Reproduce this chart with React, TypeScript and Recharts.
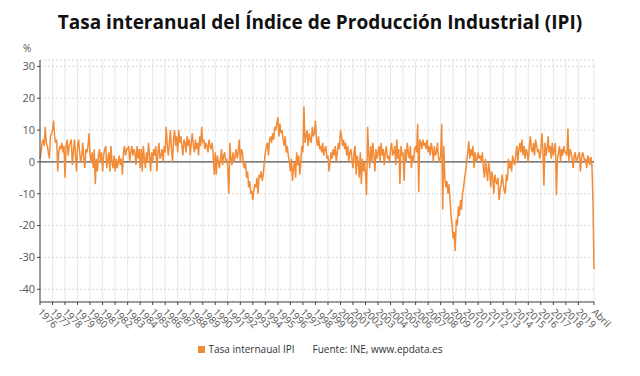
import { CartesianGrid, Line, LineChart, ReferenceLine, XAxis, YAxis } from "recharts";

// Tasa interanual IPI, monthly values (Jan 1976 - Apr 2020)
const ipi1976 = [1, 3, 6, 7, 5, 11, 6, 5, 3, 1, 8, 9];
const ipi1977 = [10, 13, 8, 6, 7, -3, 3, 5, 4, 6, 3, 5];
const ipi1978 = [-5, 5, 7, 2, 5, 6, 7, -1, 3, 7, 2, -3];
const ipi1979 = [5, 7, 3, 0, 2, 6, 1, -2, 4, 3, 5, 9];
const ipi1980 = [2, 0, 3, -2, 4, -7, 1, -3, 2, 4, 0, 3];
const ipi1981 = [-3, 2, 4, 5, -2, 1, 3, -3, 5, 0, -2, 2];
const ipi1982 = [-3, 1, -2, 0, 2, -1, 1, -4, 3, 5, 2, 4];
const ipi1983 = [4, 5, 0, 3, 5, 2, 4, 3, -1, 5, 1, 4];
const ipi1984 = [-2, 4, -3, 5, 1, -2, 3, 0, 6, 2, -3, 3];
const ipi1985 = [0, 4, 2, 5, -3, 3, 6, 1, 2, 4, 0, 5];
const ipi1986 = [3, 11, 5, 2, 6, 10, 4, 0, 7, 10, 5, 8];
const ipi1987 = [3, 10, 6, 8, 5, 2, 7, 6, 3, 8, 5, 7];
const ipi1988 = [2, 6, 9, 5, 3, 7, 4, 6, 2, 8, 5, 11];
const ipi1989 = [6, 7, 4, 6, 5, 3, 7, 5, 4, 6, 2, -4];
const ipi1990 = [3, -4, 2, 0, -2, 1, 4, -1, 2, 3, 0, 1];
const ipi1991 = [-2, -10, 6, 1, -1, 3, 0, 2, 4, 1, 3, 7];
const ipi1992 = [0, 4, 3, -1, -2, 0, -5, -3, -8, -6, -10, -9];
const ipi1993 = [-12, -9, -7, -8, -5, -10, -4, -5, -3, -6, -4, 0];
const ipi1994 = [3, 5, 6, 2, 7, 8, 6, 9, 7, 11, 10, 12];
const ipi1995 = [14, 8, 12, 9, 10, 7, 5, 8, 3, 5, 2, 0];
const ipi1996 = [-3, 1, -6, -2, 0, -5, 3, -1, 2, -4, 0, 5];
const ipi1997 = [3, 17.5, 6, 8, 10, 5, 9, 7, 6, 11, 8, 9];
const ipi1998 = [13, 7, 5, 8, 4, 5, 3, 6, 2, 4, 5, 1];
const ipi1999 = [2, -3, 0, 3, 1, 4, 2, 5, 0, 3, 6, 4];
const ipi2000 = [10, 8, 5, 7, 4, 6, 2, 5, 0, 3, 4, 1];
const ipi2001 = [-2, 3, 5, -4, 2, 0, -5, 3, -7, 1, -3, 0];
const ipi2002 = [-4, -10.5, 11, 3, -2, 5, 0, 6, 2, -3, 4, 1];
const ipi2003 = [3, 5, 0, 6, 2, 4, -1, 3, 5, 1, 2, 0];
const ipi2004 = [4, 6, 2, 3, 5, -1, 7, 1, 4, -7, 5, 2];
const ipi2005 = [3, -6, 4, 0, 6, 3, 1, 5, -2, 2, 0, 4];
const ipi2006 = [5, 3, 12, -9.5, 7, 6, 4, 7, 5, 6, 4, 7];
const ipi2007 = [3, 5, 2, 6, 4, 0, 5, 2, 3, 6, 1, 0];
const ipi2008 = [2, 12, -15, 5, -5, -8, -6, -10, -7, -12, -17, -20];
const ipi2009 = [-24, -22, -28, -18, -20, -14, -17, -12, -15, -10, -8, -5];
const ipi2010 = [-3, 0, 3, 6.5, 1, 4, 2, 5, -2, 3, 0, 1];
const ipi2011 = [3, 1, 2, 0, 3, -2, -5, 1, -3, -6, 0, -3];
const ipi2012 = [-8, -3, -5, -10, -4, -6, -7, -5, -12, -9, -7, -4];
const ipi2013 = [-7, -9, -10, -4, -6, 1, -2, 0, -3, 2, 0, -1];
const ipi2014 = [2, 5, 0, 4, 6, 3, 7, 2, 5, 1, 4, 3];
const ipi2015 = [0, 5, 8, 4, 3, 6, 2, 7, 5, 3, 4, 1];
const ipi2016 = [3, 9, 4, -7.5, 6, 2, 4, 8, 3, 5, 1, 6];
const ipi2017 = [2, 4, 6, -10.5, 1, 3, 5, 0, 4, 2, 5, 3];
const ipi2018 = [3, 2, 10.5, 0, 4, 3, 1, -2, 2, 3, 0, 1];
const ipi2019 = [2, 3, -3, 1, 3, 2, 0, 1, -2, 2, 1, -1];
const ipi2020 = [1.5, -1, -12, -33.7];

const series = [
  ipi1976, ipi1977, ipi1978, ipi1979, ipi1980, ipi1981, ipi1982, ipi1983,
  ipi1984, ipi1985, ipi1986, ipi1987, ipi1988, ipi1989, ipi1990, ipi1991,
  ipi1992, ipi1993, ipi1994, ipi1995, ipi1996, ipi1997, ipi1998, ipi1999,
  ipi2000, ipi2001, ipi2002, ipi2003, ipi2004, ipi2005, ipi2006, ipi2007,
  ipi2008, ipi2009, ipi2010, ipi2011, ipi2012, ipi2013, ipi2014, ipi2015,
  ipi2016, ipi2017, ipi2018, ipi2019, ipi2020,
];

const firstYear = 1976;
const yTicks = [30, 20, 10, 0, -10, -20, -30, -40];

const data = series.flat().map((v, i) => ({ i, v }));
const lastIndex = data.length - 1;
const xTicks = [...series.slice(0, -1).map((_, k) => k * 12), lastIndex];

const FONT = "'Open Sans', sans-serif";

function XTick({ x, y, payload }: any) {
  const label =
    payload.value === lastIndex ? "Abril" : String(firstYear + payload.value / 12);
  return (
    <text
      x={x}
      y={y}
      transform={`rotate(45 ${x} ${y})`}
      dx={2}
      dy={6}
      textAnchor="start"
      fontSize={10}
      fill="#555"
      fontFamily={FONT}
    >
      {label}
    </text>
  );
}

export default function App() {
  return (
    <div style={{ position: "relative", width: 640, height: 376, fontFamily: FONT }}>
      <style>{"body{margin:0}"}</style>
      <div
        style={{
          position: "absolute",
          top: 9,
          width: 640,
          textAlign: "center",
          fontSize: 19,
          fontWeight: 700,
          color: "#111",
        }}
      >
        Tasa interanual del Índice de Producción Industrial (IPI)
      </div>
      <div style={{ position: "absolute", left: 23, top: 41, fontSize: 10, color: "#555" }}>%</div>

      <LineChart
        width={640}
        height={376}
        data={data}
        margin={{ top: 60, right: 46, bottom: 34, left: 0 }}
      >
        <CartesianGrid horizontal={false} stroke="#e8e8e8" />
        <CartesianGrid vertical={false} stroke="#d8d8d8" strokeDasharray="2 2" />
        <XAxis
          type="number"
          dataKey="i"
          domain={[0, lastIndex]}
          ticks={xTicks}
          interval={0}
          height={40}
          tick={<XTick />}
          tickSize={3}
          stroke="#444"
        />
        <YAxis
          type="number"
          domain={[-44, 32]}
          ticks={yTicks}
          width={40}
          tickSize={3}
          stroke="#444"
          tick={{ fontSize: 11, fill: "#555", fontFamily: FONT }}
        />
        <ReferenceLine y={0} stroke="#555" strokeWidth={1.2} />
        <Line
          dataKey="v"
          stroke="#f28c38"
          strokeWidth={1.5}
          dot={false}
          isAnimationActive={false}
        />
      </LineChart>

      <div
        style={{
          position: "absolute",
          top: 342,
          left: 0,
          width: 640,
          display: "flex",
          justifyContent: "center",
          alignItems: "center",
          fontSize: 10,
          color: "#333",
        }}
      >
        <span style={{ width: 7, height: 7, background: "#f28c38", marginRight: 4 }} />
        <span style={{ marginRight: 18 }}>Tasa internaual IPI</span>
        <span>Fuente: INE, www.epdata.es</span>
      </div>
    </div>
  );
}
